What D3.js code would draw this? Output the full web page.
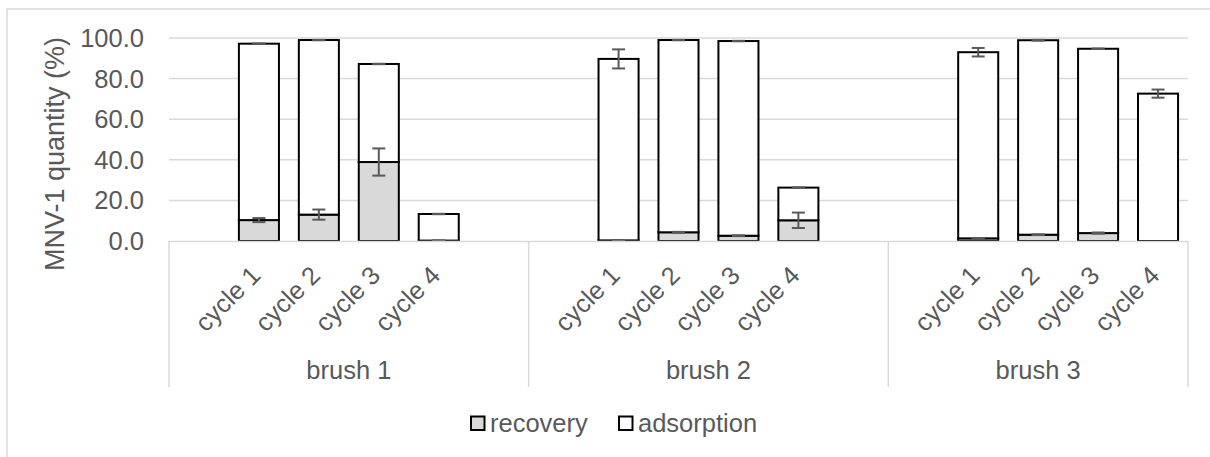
<!DOCTYPE html>
<html>
<head>
<meta charset="utf-8">
<script src="https://cdn.jsdelivr.net/npm/d3@7"></script>
<style>
  html, body { margin: 0; padding: 0; background: #fff; }
  svg { display: block; }
  text { font-family: "Liberation Sans", Arial, sans-serif; fill: #595959; }
</style>
</head>
<body>
<svg id="chart" width="1210" height="457"></svg>
<script>
// ---- data ----
const groups = ["brush 1", "brush 2", "brush 3"];
const cycles = ["cycle 1", "cycle 2", "cycle 3", "cycle 4"];
const seriesNames = ["recovery", "adsorption"];
// recovery segment (%), per group, per cycle
const recovery = [
  [10.3, 13.0, 38.9, 0.2],
  [0.3, 4.3, 2.6, 10.2],
  [1.3, 3.1, 3.9, 0.0]
];
// adsorption segment (%), stacked on recovery
const adsorption = [
  [86.9, 86.0, 48.3, 13.1],
  [89.4, 94.7, 95.9, 16.1],
  [91.7, 95.8, 90.8, 72.6]
];
// error bar half-widths (%)
const recoveryErr = [
  [1.0, 2.5, 6.7, 0.1],
  [0.1, 0.2, 0.2, 3.8],
  [0.1, 0.2, 0.3, 0.0]
];
const adsorptionErr = [
  [0.1, 0.1, 0.1, 0.1],
  [4.7, 0.1, 0.1, 0.1],
  [2.1, 0.2, 0.1, 2.0]
];
const yTicks = [0, 20, 40, 60, 80, 100];
const yTitle = "MNV-1 quantity (%)";

// ---- layout ----
const svg = d3.select("#chart");
const plotLeft = 169, plotRight = 1188, plotTop = 38, plotBottom = 241;

// category slots: each group has an empty lead slot, 4 cycles, and an empty trail slot (except last)
const slots = [];
groups.forEach((g, gi) => {
  slots.push(g + "|lead");
  cycles.forEach(c => slots.push(g + "|" + c));
  if (gi < groups.length - 1) slots.push(g + "|trail");
});

const x = d3.scaleBand().domain(slots).range([plotLeft, plotRight]).paddingInner(0).paddingOuter(0);
const y = d3.scaleLinear().domain([0, 100]).range([plotBottom, plotTop]);
const barW = x.bandwidth() * 0.668;

// chart border
svg.append("rect").attr("x", 7).attr("y", 9).attr("width", 1220).attr("height", 470)
  .attr("fill", "none").attr("stroke", "#d9d9d9").attr("stroke-width", 1.5);

// gridlines
svg.append("g").selectAll("line").data(yTicks.filter(t => t > 0)).join("line")
  .attr("x1", plotLeft).attr("x2", plotRight)
  .attr("y1", d => y(d)).attr("y2", d => y(d))
  .attr("stroke", "#d9d9d9").attr("stroke-width", 1.5);

// y axis labels
svg.append("g").selectAll("text").data(yTicks).join("text")
  .attr("x", 144).attr("y", d => y(d))
  .attr("text-anchor", "end").attr("dominant-baseline", "central")
  .style("font-size", "25.5px")
  .text(d => d.toFixed(1));

// y title
svg.append("text")
  .attr("transform", `translate(64, ${(31 + 277) / 2}) rotate(-90)`)
  .attr("text-anchor", "middle")
  .style("font-size", "27px")
  .text(yTitle);

// bars
const rows = [];
groups.forEach((g, gi) => cycles.forEach((c, ci) => {
  rows.push({
    key: g + "|" + c, cycle: c,
    rec: recovery[gi][ci], ads: adsorption[gi][ci],
    recErr: recoveryErr[gi][ci], adsErr: adsorptionErr[gi][ci]
  });
}));

const barG = svg.append("g");
rows.forEach(r => {
  const cx = x(r.key) + x.bandwidth() / 2;
  // recovery
  barG.append("rect")
    .attr("x", cx - barW / 2).attr("width", barW)
    .attr("y", y(r.rec)).attr("height", y(0) - y(r.rec))
    .attr("fill", "#d9d9d9").attr("stroke", "#000").attr("stroke-width", 2);
  // adsorption
  barG.append("rect")
    .attr("x", cx - barW / 2).attr("width", barW)
    .attr("y", y(r.rec + r.ads)).attr("height", y(r.rec) - y(r.rec + r.ads))
    .attr("fill", "#fff").attr("stroke", "#000").attr("stroke-width", 2);
});

// error bars
const errG = svg.append("g").attr("stroke", "#595959").attr("stroke-width", 2);
function errBar(cx, v, e) {
  const cap = 6.5;
  errG.append("line").attr("x1", cx).attr("x2", cx).attr("y1", y(v - e)).attr("y2", y(v + e));
  errG.append("line").attr("x1", cx - cap).attr("x2", cx + cap).attr("y1", y(v + e)).attr("y2", y(v + e));
  errG.append("line").attr("x1", cx - cap).attr("x2", cx + cap).attr("y1", y(v - e)).attr("y2", y(v - e));
}
rows.forEach(r => {
  const cx = x(r.key) + x.bandwidth() / 2;
  if (r.rec > 0) errBar(cx, r.rec, r.recErr);
  errBar(cx, r.rec + r.ads, r.adsErr);
});

// category axis line
svg.append("line").attr("x1", plotLeft).attr("x2", plotRight)
  .attr("y1", plotBottom + 0.5).attr("y2", plotBottom + 0.5)
  .attr("stroke", "#d9d9d9").attr("stroke-width", 1.5);

// group separators
const sepX = groups.map(g => x(g + "|lead")).concat([plotRight]);
svg.append("g").selectAll("line").data(sepX).join("line")
  .attr("x1", d => d).attr("x2", d => d)
  .attr("y1", plotBottom).attr("y2", 387)
  .attr("stroke", "#d9d9d9").attr("stroke-width", 1.5);

// cycle labels (rotated)
svg.append("g").selectAll("text").data(rows).join("text")
  .attr("transform", d => `translate(${x(d.key) + x.bandwidth() / 2 + 3}, 277) rotate(-45)`)
  .attr("text-anchor", "end")
  .style("font-size", "25.5px")
  .text(d => d.cycle);

// group labels
svg.append("g").selectAll("text").data(groups).join("text")
  .attr("x", (g, i) => (sepX[i] + sepX[i + 1]) / 2)
  .attr("y", 379)
  .attr("text-anchor", "middle")
  .style("font-size", "25.5px")
  .text(g => g);

// legend
const legendX = [471, 619];
const legendFill = ["#d9d9d9", "#fff"];
const lg = svg.append("g");
seriesNames.forEach((s, i) => {
  lg.append("rect").attr("x", legendX[i]).attr("y", 416.5).attr("width", 13.5).attr("height", 13.5)
    .attr("fill", legendFill[i]).attr("stroke", "#000").attr("stroke-width", 2);
  lg.append("text").attr("x", legendX[i] + 19).attr("y", 431.5)
    .style("font-size", "25.5px").text(s);
});
</script>
</body>
</html>
